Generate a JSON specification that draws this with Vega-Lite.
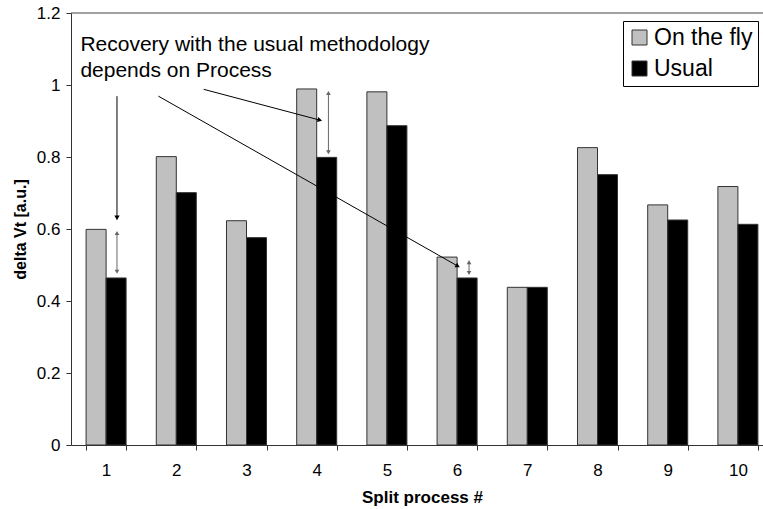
{
  "$schema": "https://vega.github.io/schema/vega-lite/v6.json",
  "width": 692,
  "height": 432,
  "autosize": {"type": "none"},
  "padding": {"left": 71, "top": 13, "right": 0, "bottom": 64},
  "background": "white",
  "config": {"font": "Liberation Sans", "view": {"stroke": null}},
  "datasets": {
    "bars": [
      {"process": 1, "series": "On the fly", "value": 0.599},
      {"process": 1, "series": "Usual", "value": 0.464},
      {"process": 2, "series": "On the fly", "value": 0.801},
      {"process": 2, "series": "Usual", "value": 0.701},
      {"process": 3, "series": "On the fly", "value": 0.623},
      {"process": 3, "series": "Usual", "value": 0.576},
      {"process": 4, "series": "On the fly", "value": 0.989},
      {"process": 4, "series": "Usual", "value": 0.799},
      {"process": 5, "series": "On the fly", "value": 0.981},
      {"process": 5, "series": "Usual", "value": 0.887},
      {"process": 6, "series": "On the fly", "value": 0.522},
      {"process": 6, "series": "Usual", "value": 0.464},
      {"process": 7, "series": "On the fly", "value": 0.438},
      {"process": 7, "series": "Usual", "value": 0.438},
      {"process": 8, "series": "On the fly", "value": 0.826},
      {"process": 8, "series": "Usual", "value": 0.751},
      {"process": 9, "series": "On the fly", "value": 0.667},
      {"process": 9, "series": "Usual", "value": 0.625},
      {"process": 10, "series": "On the fly", "value": 0.718},
      {"process": 10, "series": "Usual", "value": 0.613}
    ],
    "arrows": [
      {"x": 1.155, "y": 0.969, "x2": 1.155, "y2": 0.633},
      {"x": 2.39, "y": 0.988, "x2": 4.034, "y2": 0.903},
      {"x": 1.745, "y": 0.969, "x2": 6.0, "y2": 0.498}
    ],
    "spans": [
      {"x": 1.155, "top": 0.589, "bottom": 0.481},
      {"x": 4.167, "top": 0.978, "bottom": 0.813},
      {"x": 6.17, "top": 0.508, "bottom": 0.478}
    ],
    "note": [
      {"x": 0.634, "y": 1.094, "text": "Recovery with the usual methodology\ndepends on Process"}
    ]
  },
  "layer": [
    {
      "data": {"name": "bars"},
      "mark": {"type": "bar", "stroke": "#333", "strokeWidth": 1},
      "encoding": {
        "x": {
          "field": "process", "type": "ordinal",
          "scale": {"range": [0, 702], "paddingInner": 0.43, "paddingOuter": 0.215},
          "axis": {
            "title": "Split process #", "labelAngle": 0, "tickBand": "extent",
            "labelFontSize": 17, "titleFontSize": 17, "titleFontWeight": "bold",
            "tickSize": 5, "labelPadding": 12, "titlePadding": 11,
            "domainColor": "#333", "tickColor": "#333", "labelColor": "#000", "titleColor": "#000",
            "titleX": 351
          }
        },
        "xOffset": {"field": "series", "type": "nominal", "scale": {"domain": ["On the fly", "Usual"]}},
        "y": {
          "field": "value", "type": "quantitative", "title": "delta Vt [a.u.]",
          "scale": {"domain": [0, 1.2]},
          "axis": {
            "values": [0, 0.2, 0.4, 0.6, 0.8, 1, 1.2], "format": "~g",
            "grid": false, "labelFontSize": 17, "titleFontSize": 16, "titleFontWeight": "bold",
            "tickSize": 5, "labelPadding": 6, "titlePadding": 8,
            "domainColor": "#333", "tickColor": "#333", "labelColor": "#000", "titleColor": "#000"
          }
        },
        "color": {
          "field": "series", "type": "nominal",
          "scale": {"domain": ["On the fly", "Usual"], "range": ["#c0c0c0", "#000000"]},
          "legend": {
            "title": null, "orient": "none", "legendX": 552, "legendY": 8,
            "symbolType": "square", "symbolSize": 225, "symbolStrokeColor": "#333", "symbolStrokeWidth": 1,
            "labelFontSize": 23, "labelOffset": 3, "rowPadding": 7, "padding": 5,
            "strokeColor": "#000", "fillColor": "#fff", "labelColor": "#000"
          }
        }
      }
    },
    {
      "layer": [
        {
          "data": {"values": [{}]},
          "mark": {"type": "rule", "color": "#444", "strokeWidth": 1},
          "encoding": {"y": {"datum": 1.2, "type": "quantitative", "title": "delta Vt [a.u.]"}}
        },
        {
          "data": {"name": "arrows"},
          "mark": {"type": "rule", "color": "#000", "strokeWidth": 1},
          "encoding": {
            "x": {"field": "x", "type": "quantitative", "scale": {"domain": [0.5, 10.5], "range": [0, 702]}, "axis": null},
            "x2": {"field": "x2"},
            "y": {"field": "y", "type": "quantitative", "title": "delta Vt [a.u.]"},
            "y2": {"field": "y2"}
          }
        },
        {
          "data": {"name": "arrows"},
          "transform": [{"calculate": "atan2((datum.x2-datum.x)*70.2,(datum.y2-datum.y)*360)*180/PI", "as": "dir"}],
          "mark": {"type": "point", "shape": "triangle", "filled": true, "color": "#000", "size": 28, "opacity": 1},
          "encoding": {
            "x": {"field": "x2", "type": "quantitative", "scale": {"domain": [0.5, 10.5], "range": [0, 702]}, "axis": null},
            "y": {"field": "y2", "type": "quantitative", "title": "delta Vt [a.u.]"},
            "angle": {"field": "dir", "type": "quantitative", "scale": null}
          }
        },
        {
          "data": {"name": "spans"},
          "mark": {"type": "rule", "color": "#666", "strokeWidth": 1},
          "encoding": {
            "x": {"field": "x", "type": "quantitative", "scale": {"domain": [0.5, 10.5], "range": [0, 702]}, "axis": null},
            "y": {"field": "top", "type": "quantitative", "title": "delta Vt [a.u.]"},
            "y2": {"field": "bottom"}
          }
        },
        {
          "data": {"name": "spans"},
          "mark": {"type": "point", "shape": "triangle-up", "filled": true, "color": "#666", "size": 22, "opacity": 1},
          "encoding": {
            "x": {"field": "x", "type": "quantitative", "scale": {"domain": [0.5, 10.5], "range": [0, 702]}, "axis": null},
            "y": {"field": "top", "type": "quantitative", "title": "delta Vt [a.u.]"}
          }
        },
        {
          "data": {"name": "spans"},
          "mark": {"type": "point", "shape": "triangle-down", "filled": true, "color": "#666", "size": 22, "opacity": 1},
          "encoding": {
            "x": {"field": "x", "type": "quantitative", "scale": {"domain": [0.5, 10.5], "range": [0, 702]}, "axis": null},
            "y": {"field": "bottom", "type": "quantitative", "title": "delta Vt [a.u.]"}
          }
        },
        {
          "data": {"name": "note"},
          "mark": {"type": "text", "align": "left", "baseline": "alphabetic", "fontSize": 21, "lineBreak": "\n", "lineHeight": 25.7, "color": "#000"},
          "encoding": {
            "x": {"field": "x", "type": "quantitative", "scale": {"domain": [0.5, 10.5], "range": [0, 702]}, "axis": null},
            "y": {"field": "y", "type": "quantitative", "title": "delta Vt [a.u.]"},
            "text": {"field": "text"}
          }
        }
      ]
    }
  ],
  "resolve": {"scale": {"x": "independent"}}
}
